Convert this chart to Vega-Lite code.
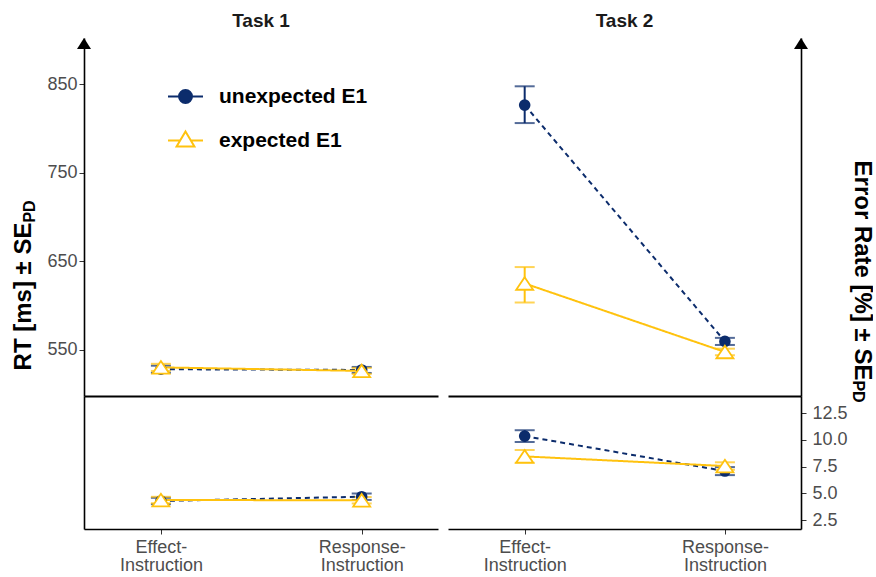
{
  "$schema": "https://vega.github.io/schema/vega-lite/v6.json",
  "padding": {"left": 11, "top": 12, "right": 0, "bottom": 0},
  "background": "white",
  "config": {"view": {"stroke": null}, "font": "Liberation Sans", "axis": {"grid": false}},
  "datasets": {
    "rt": [
      {"task": "Task 1", "instr": 1, "cond": "unexpected E1", "mean": 528.2, "lo": 524.2, "hi": 532.2},
      {"task": "Task 1", "instr": 1, "cond": "expected E1", "mean": 530.3, "lo": 526.3, "hi": 534.3},
      {"task": "Task 1", "instr": 2, "cond": "unexpected E1", "mean": 527.4, "lo": 524.0, "hi": 530.8},
      {"task": "Task 1", "instr": 2, "cond": "expected E1", "mean": 526.3, "lo": 522.9, "hi": 529.7},
      {"task": "Task 2", "instr": 1, "cond": "unexpected E1", "mean": 826.3, "lo": 806.0, "hi": 847.5},
      {"task": "Task 2", "instr": 1, "cond": "expected E1", "mean": 625.0, "lo": 603.5, "hi": 643.5},
      {"task": "Task 2", "instr": 2, "cond": "unexpected E1", "mean": 559.6, "lo": 555.6, "hi": 563.6},
      {"task": "Task 2", "instr": 2, "cond": "expected E1", "mean": 547.7, "lo": 544.0, "hi": 551.4}
    ],
    "er": [
      {"task": "Task 1", "instr": 1, "cond": "unexpected E1", "mean": 4.28, "lo": 3.98, "hi": 4.58},
      {"task": "Task 1", "instr": 1, "cond": "expected E1", "mean": 4.37, "lo": 4.07, "hi": 4.67},
      {"task": "Task 1", "instr": 2, "cond": "unexpected E1", "mean": 4.68, "lo": 4.38, "hi": 4.98},
      {"task": "Task 1", "instr": 2, "cond": "expected E1", "mean": 4.35, "lo": 4.05, "hi": 4.65},
      {"task": "Task 2", "instr": 1, "cond": "unexpected E1", "mean": 10.35, "lo": 9.8, "hi": 10.9},
      {"task": "Task 2", "instr": 1, "cond": "expected E1", "mean": 8.45, "lo": 7.85, "hi": 9.05},
      {"task": "Task 2", "instr": 2, "cond": "unexpected E1", "mean": 7.08, "lo": 6.7, "hi": 7.45},
      {"task": "Task 2", "instr": 2, "cond": "expected E1", "mean": 7.55, "lo": 7.2, "hi": 7.9}
    ]
  },
  "spacing": 10,
  "resolve": {"scale": {"color": "independent", "x": "independent", "y": "independent", "fill": "independent", "shape": "independent"}, "legend": {"color": "independent", "fill": "independent", "shape": "independent"}},
  "hconcat": [
    {
      "vconcat": [
        {
          "width": 354, "height": 358,
          "title": {"text": "Task 1", "fontSize": 19, "fontWeight": "bold", "color": "#1a1a1a", "anchor": "middle", "frame": "group", "offset": -8, "baseline": "alphabetic", "font": "Liberation Sans"},
          "data": {"name": "rt"},
          "resolve": {"scale": {"color": "independent", "fill": "independent", "shape": "independent"}, "legend": {"color": "independent", "fill": "independent", "shape": "independent"}},
          "layer": [
            {
              "transform": [{"filter": "datum.task === 'Task 1'"}],
              "mark": {"type": "errorbar", "ticks": true, "size": 20, "thickness": 2},
              "encoding": {
                "x": {"field": "instr", "type": "quantitative", "scale": {"domain": [0.617, 2.38]}, "axis": {"orient": "bottom", "labels": false, "ticks": false, "title": null, "domainColor": "black", "domainWidth": 1.8}},
                "y": {"field": "lo", "type": "quantitative", "scale": {"domain": [498, 902]}, "axis": {"orient": "left", "values": [550, 650, 750, 850], "title": "RT [ms] ± SE", "titleFontSize": 24, "titleFontWeight": "bold", "titleColor": "black", "titleAngle": 270, "titleX": -54, "titleY": 258, "titleAlign": "center", "titleBaseline": "alphabetic", "labelFontSize": 18, "labelColor": "#4d4d4d", "tickColor": "#333333", "tickSize": 5, "labelPadding": 2, "domainColor": "black", "domainWidth": 1.6}},
                "y2": {"field": "hi"},
                "color": {"field": "cond", "type": "nominal", "scale": {"domain": ["unexpected E1", "expected E1"], "range": ["#0c2c6c", "#ffc20e"]}, "legend": null}
              }
            },
            {
              "transform": [{"filter": "datum.task === 'Task 1'"}],
              "mark": {"type": "line", "strokeWidth": 2},
              "encoding": {
                "x": {"field": "instr", "type": "quantitative", "scale": {"domain": [0.617, 2.38]}},
                "y": {"field": "mean", "type": "quantitative", "scale": {"domain": [498, 902]}},
                "color": {"field": "cond", "type": "nominal", "scale": {"domain": ["unexpected E1", "expected E1"], "range": ["#0c2c6c", "#ffc20e"]}, "legend": null},
                "strokeDash": {"condition": {"test": "datum.cond === 'unexpected E1'", "value": [5, 4]}, "value": [1, 0]}
              }
            },
            {
              "transform": [{"filter": "datum.task === 'Task 1' && datum.cond === 'unexpected E1'"}],
              "mark": {"type": "point", "shape": "circle", "filled": true, "size": 135, "color": "#0c2c6c", "opacity": 1},
              "encoding": {
                "x": {"field": "instr", "type": "quantitative", "scale": {"domain": [0.617, 2.38]}},
                "y": {"field": "mean", "type": "quantitative", "scale": {"domain": [498, 902]}}
              }
            },
            {
              "transform": [{"filter": "datum.task === 'Task 1' && datum.cond === 'expected E1'"}],
              "mark": {"type": "point", "shape": "M0,-0.74L1,0.74L-1,0.74Z", "size": 289, "filled": true, "fill": "white", "stroke": "#ffc20e", "strokeWidth": 1.8, "opacity": 1},
              "encoding": {
                "x": {"field": "instr", "type": "quantitative", "scale": {"domain": [0.617, 2.38]}},
                "y": {"field": "mean", "type": "quantitative", "scale": {"domain": [498, 902]}}
              }
            },
            {
              "transform": [{"filter": "false"}],
              "mark": {"type": "point", "filled": false, "opacity": 1},
              "encoding": {
                "x": {"field": "instr", "type": "quantitative", "scale": {"domain": [0.617, 2.38]}},
                "y": {"field": "mean", "type": "quantitative", "scale": {"domain": [498, 902]}},
                "color": {"field": "cond", "type": "nominal", "scale": {"domain": ["unexpected E1", "expected E1"], "range": ["#0c2c6c", "#ffc20e"]},
                  "legend": {"orient": "none", "legendX": 83, "legendY": 40, "title": null, "direction": "vertical", "symbolSize": 1225, "symbolStrokeWidth": 2, "symbolOpacity": 1, "labelFontSize": 21, "labelFontWeight": "bold", "labelColor": "black", "labelFont": "Liberation Sans", "labelOffset": 15, "rowPadding": 15, "padding": 0}},
                "fill": {"field": "cond", "type": "nominal", "scale": {"domain": ["unexpected E1", "expected E1"], "range": ["#0c2c6c", "white"]}, "legend": {}},
                "shape": {"field": "cond", "type": "nominal", "scale": {"domain": ["unexpected E1", "expected E1"], "range": ["M-1,0H1M-0.37,0A0.37,0.37 0 1,0 0.37,0A0.37,0.37 0 1,0 -0.37,0Z", "M-1,0H-0.31M0.31,0H1M0,-0.52L0.51,0.34L-0.51,0.34Z"]}, "legend": {}}
              }
            },
            {
              "data": {"values": [{"a": 1}]},
              "mark": {"type": "point", "shape": "M0,0L0.7,1.1L-0.7,1.1Z", "size": 400, "filled": true, "color": "black", "opacity": 1},
              "encoding": {
                "x": {"datum": 0.617, "type": "quantitative", "scale": {"domain": [0.617, 2.38]}},
                "y": {"datum": 902, "type": "quantitative", "scale": {"domain": [498, 902]}}
              }
            }
          ]
        },
        {
          "width": 354, "height": 133,
          "data": {"name": "er"},
          "layer": [
            {
              "transform": [{"filter": "datum.task === 'Task 1'"}],
              "mark": {"type": "errorbar", "ticks": true, "size": 20, "thickness": 2},
              "encoding": {
                "x": {"field": "instr", "type": "quantitative", "scale": {"domain": [0.617, 2.38]}, "axis": {"orient": "bottom", "values": [1, 2], "labelExpr": "datum.value == 1 ? ['Effect-', 'Instruction'] : ['Response-', 'Instruction']", "labelFontSize": 18, "labelColor": "#4d4d4d", "labelLineHeight": 18, "tickSize": 5, "tickColor": "#333333", "domainColor": "black", "domainWidth": 1.6, "title": null, "labelPadding": 4}},
                "y": {"field": "lo", "type": "quantitative", "scale": {"domain": [1.66, 14.1]}, "axis": {"orient": "left", "labels": false, "ticks": false, "domainColor": "black", "domainWidth": 1.6, "title": "PD", "titleFontSize": 16, "titleFontWeight": "bold", "titleColor": "black", "titleAngle": 270, "titleX": -50, "titleY": -185, "titleAlign": "center", "titleBaseline": "alphabetic"}},
                "y2": {"field": "hi"},
                "color": {"field": "cond", "type": "nominal", "scale": {"domain": ["unexpected E1", "expected E1"], "range": ["#0c2c6c", "#ffc20e"]}, "legend": null}
              }
            },
            {
              "transform": [{"filter": "datum.task === 'Task 1'"}],
              "mark": {"type": "line", "strokeWidth": 2},
              "encoding": {
                "x": {"field": "instr", "type": "quantitative", "scale": {"domain": [0.617, 2.38]}},
                "y": {"field": "mean", "type": "quantitative", "scale": {"domain": [1.66, 14.1]}},
                "color": {"field": "cond", "type": "nominal", "scale": {"domain": ["unexpected E1", "expected E1"], "range": ["#0c2c6c", "#ffc20e"]}, "legend": null},
                "strokeDash": {"condition": {"test": "datum.cond === 'unexpected E1'", "value": [5, 4]}, "value": [1, 0]}
              }
            },
            {
              "transform": [{"filter": "datum.task === 'Task 1' && datum.cond === 'unexpected E1'"}],
              "mark": {"type": "point", "shape": "circle", "filled": true, "size": 135, "color": "#0c2c6c", "opacity": 1},
              "encoding": {
                "x": {"field": "instr", "type": "quantitative", "scale": {"domain": [0.617, 2.38]}},
                "y": {"field": "mean", "type": "quantitative", "scale": {"domain": [1.66, 14.1]}}
              }
            },
            {
              "transform": [{"filter": "datum.task === 'Task 1' && datum.cond === 'expected E1'"}],
              "mark": {"type": "point", "shape": "M0,-0.74L1,0.74L-1,0.74Z", "size": 289, "filled": true, "fill": "white", "stroke": "#ffc20e", "strokeWidth": 1.8, "opacity": 1},
              "encoding": {
                "x": {"field": "instr", "type": "quantitative", "scale": {"domain": [0.617, 2.38]}},
                "y": {"field": "mean", "type": "quantitative", "scale": {"domain": [1.66, 14.1]}}
              }
            }
          ]
        }
      ],
      "spacing": 0,
      "bounds": "flush",
      "resolve": {"scale": {"color": "independent", "x": "independent", "y": "independent", "fill": "independent", "shape": "independent"}, "legend": {"color": "independent", "fill": "independent", "shape": "independent"}}
    },
    {
      "vconcat": [
        {
          "width": 353, "height": 358,
          "title": {"text": "Task 2", "fontSize": 19, "fontWeight": "bold", "color": "#1a1a1a", "anchor": "middle", "frame": "group", "offset": -8, "baseline": "alphabetic", "font": "Liberation Sans"},
          "data": {"name": "rt"},
          "layer": [
            {
              "transform": [{"filter": "datum.task === 'Task 2'"}],
              "mark": {"type": "errorbar", "ticks": true, "size": 20, "thickness": 2},
              "encoding": {
                "x": {"field": "instr", "type": "quantitative", "scale": {"domain": [0.617, 2.38]}, "axis": {"orient": "bottom", "labels": false, "ticks": false, "title": null, "domainColor": "black", "domainWidth": 1.8}},
                "y": {"field": "lo", "type": "quantitative", "scale": {"domain": [498, 902]}, "axis": {"orient": "right", "labels": false, "ticks": false, "title": "Error Rate [%] ± SE", "titleFontSize": 24, "titleFontWeight": "bold", "titleColor": "black", "titleAngle": 90, "titleX": 53, "titleY": 232, "titleAlign": "center", "titleBaseline": "alphabetic", "domainColor": "black", "domainWidth": 1.6}},
                "y2": {"field": "hi"},
                "color": {"field": "cond", "type": "nominal", "scale": {"domain": ["unexpected E1", "expected E1"], "range": ["#0c2c6c", "#ffc20e"]}, "legend": null}
              }
            },
            {
              "transform": [{"filter": "datum.task === 'Task 2'"}],
              "mark": {"type": "line", "strokeWidth": 2},
              "encoding": {
                "x": {"field": "instr", "type": "quantitative", "scale": {"domain": [0.617, 2.38]}},
                "y": {"field": "mean", "type": "quantitative", "scale": {"domain": [498, 902]}},
                "color": {"field": "cond", "type": "nominal", "scale": {"domain": ["unexpected E1", "expected E1"], "range": ["#0c2c6c", "#ffc20e"]}, "legend": null},
                "strokeDash": {"condition": {"test": "datum.cond === 'unexpected E1'", "value": [5, 4]}, "value": [1, 0]}
              }
            },
            {
              "transform": [{"filter": "datum.task === 'Task 2' && datum.cond === 'unexpected E1'"}],
              "mark": {"type": "point", "shape": "circle", "filled": true, "size": 135, "color": "#0c2c6c", "opacity": 1},
              "encoding": {
                "x": {"field": "instr", "type": "quantitative", "scale": {"domain": [0.617, 2.38]}},
                "y": {"field": "mean", "type": "quantitative", "scale": {"domain": [498, 902]}}
              }
            },
            {
              "transform": [{"filter": "datum.task === 'Task 2' && datum.cond === 'expected E1'"}],
              "mark": {"type": "point", "shape": "M0,-0.74L1,0.74L-1,0.74Z", "size": 289, "filled": true, "fill": "white", "stroke": "#ffc20e", "strokeWidth": 1.8, "opacity": 1},
              "encoding": {
                "x": {"field": "instr", "type": "quantitative", "scale": {"domain": [0.617, 2.38]}},
                "y": {"field": "mean", "type": "quantitative", "scale": {"domain": [498, 902]}}
              }
            },
            {
              "data": {"values": [{"a": 1}]},
              "mark": {"type": "point", "shape": "M0,0L0.7,1.1L-0.7,1.1Z", "size": 400, "filled": true, "color": "black", "opacity": 1},
              "encoding": {
                "x": {"datum": 2.38, "type": "quantitative", "scale": {"domain": [0.617, 2.38]}},
                "y": {"datum": 902, "type": "quantitative", "scale": {"domain": [498, 902]}}
              }
            }
          ]
        },
        {
          "width": 353, "height": 133,
          "data": {"name": "er"},
          "layer": [
            {
              "transform": [{"filter": "datum.task === 'Task 2'"}],
              "mark": {"type": "errorbar", "ticks": true, "size": 20, "thickness": 2},
              "encoding": {
                "x": {"field": "instr", "type": "quantitative", "scale": {"domain": [0.617, 2.38]}, "axis": {"orient": "bottom", "values": [1, 2], "labelExpr": "datum.value == 1 ? ['Effect-', 'Instruction'] : ['Response-', 'Instruction']", "labelFontSize": 18, "labelColor": "#4d4d4d", "labelLineHeight": 18, "tickSize": 5, "tickColor": "#333333", "domainColor": "black", "domainWidth": 1.6, "title": null, "labelPadding": 4}},
                "y": {"field": "lo", "type": "quantitative", "scale": {"domain": [1.66, 14.1]}, "axis": {"orient": "right", "values": [2.5, 5, 7.5, 10, 12.5], "format": ".1f", "labelOverlap": false, "labelFontSize": 18, "labelColor": "#4d4d4d", "tickColor": "#333333", "tickSize": 5, "labelPadding": 6, "domainColor": "black", "domainWidth": 1.6, "title": "PD", "titleFontSize": 16, "titleFontWeight": "bold", "titleColor": "black", "titleAngle": 90, "titleX": 51, "titleY": -5, "titleAlign": "center", "titleBaseline": "alphabetic"}},
                "y2": {"field": "hi"},
                "color": {"field": "cond", "type": "nominal", "scale": {"domain": ["unexpected E1", "expected E1"], "range": ["#0c2c6c", "#ffc20e"]}, "legend": null}
              }
            },
            {
              "transform": [{"filter": "datum.task === 'Task 2'"}],
              "mark": {"type": "line", "strokeWidth": 2},
              "encoding": {
                "x": {"field": "instr", "type": "quantitative", "scale": {"domain": [0.617, 2.38]}},
                "y": {"field": "mean", "type": "quantitative", "scale": {"domain": [1.66, 14.1]}, "axis": {"orient": "right", "values": [2.5, 5, 7.5, 10, 12.5], "format": ".1f", "labelOverlap": false, "labelFontSize": 18, "labelColor": "#4d4d4d", "tickColor": "#333333", "tickSize": 5, "labelPadding": 6, "domainColor": "black", "domainWidth": 1.6, "title": "PD", "titleFontSize": 16, "titleFontWeight": "bold", "titleColor": "black", "titleAngle": 90, "titleX": 51, "titleY": -5, "titleAlign": "center", "titleBaseline": "alphabetic"}},
                "color": {"field": "cond", "type": "nominal", "scale": {"domain": ["unexpected E1", "expected E1"], "range": ["#0c2c6c", "#ffc20e"]}, "legend": null},
                "strokeDash": {"condition": {"test": "datum.cond === 'unexpected E1'", "value": [5, 4]}, "value": [1, 0]}
              }
            },
            {
              "transform": [{"filter": "datum.task === 'Task 2' && datum.cond === 'unexpected E1'"}],
              "mark": {"type": "point", "shape": "circle", "filled": true, "size": 135, "color": "#0c2c6c", "opacity": 1},
              "encoding": {
                "x": {"field": "instr", "type": "quantitative", "scale": {"domain": [0.617, 2.38]}},
                "y": {"field": "mean", "type": "quantitative", "scale": {"domain": [1.66, 14.1]}, "axis": {"orient": "right", "values": [2.5, 5, 7.5, 10, 12.5], "format": ".1f", "labelOverlap": false, "labelFontSize": 18, "labelColor": "#4d4d4d", "tickColor": "#333333", "tickSize": 5, "labelPadding": 6, "domainColor": "black", "domainWidth": 1.6, "title": "PD", "titleFontSize": 16, "titleFontWeight": "bold", "titleColor": "black", "titleAngle": 90, "titleX": 51, "titleY": -5, "titleAlign": "center", "titleBaseline": "alphabetic"}}
              }
            },
            {
              "transform": [{"filter": "datum.task === 'Task 2' && datum.cond === 'expected E1'"}],
              "mark": {"type": "point", "shape": "M0,-0.74L1,0.74L-1,0.74Z", "size": 289, "filled": true, "fill": "white", "stroke": "#ffc20e", "strokeWidth": 1.8, "opacity": 1},
              "encoding": {
                "x": {"field": "instr", "type": "quantitative", "scale": {"domain": [0.617, 2.38]}},
                "y": {"field": "mean", "type": "quantitative", "scale": {"domain": [1.66, 14.1]}, "axis": {"orient": "right", "values": [2.5, 5, 7.5, 10, 12.5], "format": ".1f", "labelOverlap": false, "labelFontSize": 18, "labelColor": "#4d4d4d", "tickColor": "#333333", "tickSize": 5, "labelPadding": 6, "domainColor": "black", "domainWidth": 1.6, "title": "PD", "titleFontSize": 16, "titleFontWeight": "bold", "titleColor": "black", "titleAngle": 90, "titleX": 51, "titleY": -5, "titleAlign": "center", "titleBaseline": "alphabetic"}}
              }
            }
          ]
        }
      ],
      "spacing": 0,
      "bounds": "flush",
      "resolve": {"scale": {"color": "independent", "x": "independent", "y": "independent", "fill": "independent", "shape": "independent"}, "legend": {"color": "independent", "fill": "independent", "shape": "independent"}}
    }
  ]
}
